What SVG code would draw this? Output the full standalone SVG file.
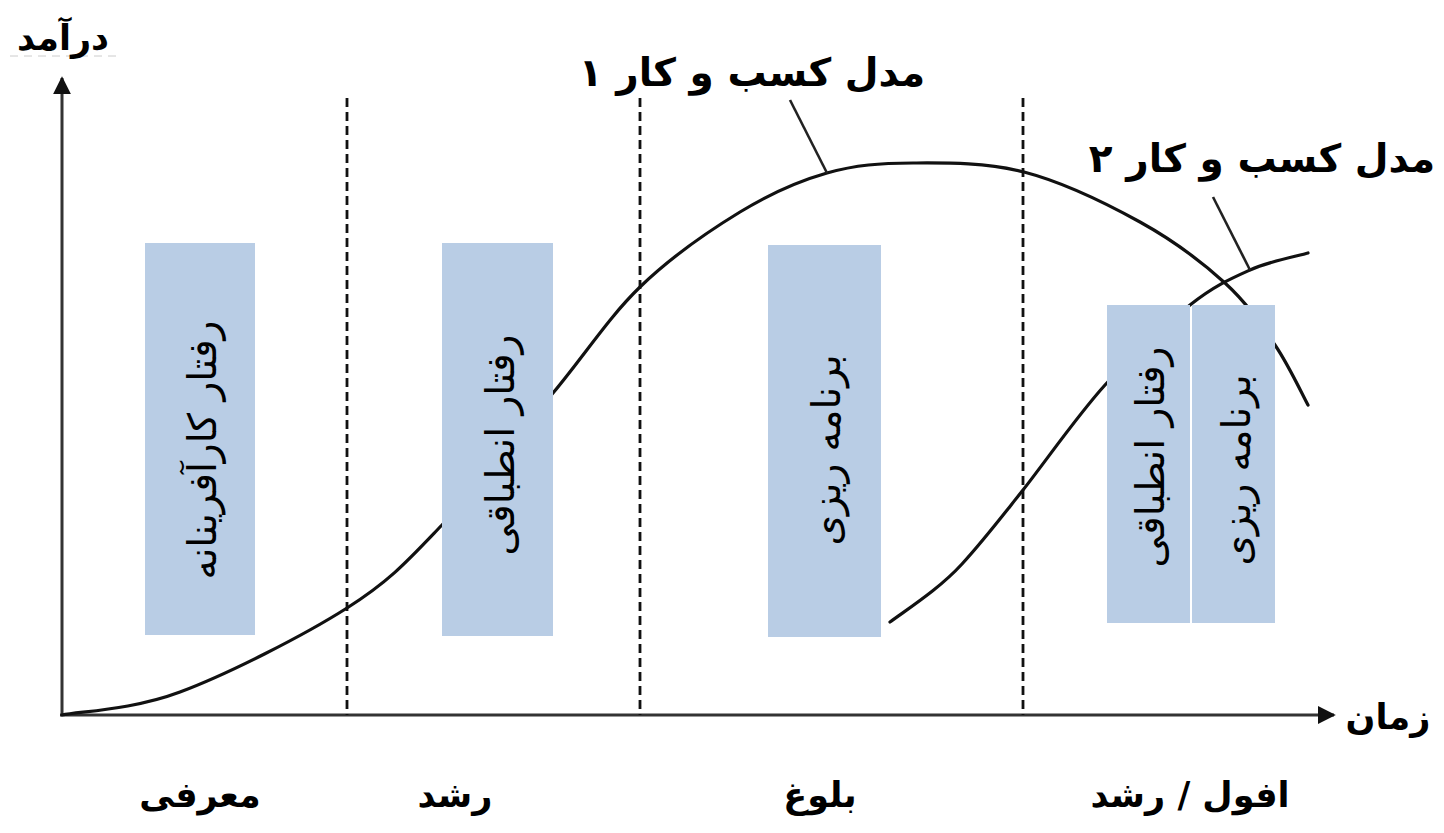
<svg xmlns="http://www.w3.org/2000/svg" width="1444" height="833" viewBox="0 0 1444 833">
<style>
.fa{font-family:"DejaVu Sans","Noto Sans",sans-serif;fill:#000;text-anchor:middle;direction:rtl}
.lbl{font-size:39px;font-weight:bold}
.stage{font-size:35px;font-weight:bold}
.axis{font-size:35px;font-weight:bold}
.boxt{font-size:39px;dominant-baseline:central}
.box{fill:#b9cde5}
.curve{fill:none;stroke:#111;stroke-width:3.2;stroke-linecap:round}
.tick{fill:none;stroke:#222;stroke-width:2.6}
.dash{fill:none;stroke:#111;stroke-width:2.8;stroke-dasharray:9 5}
.ax{stroke:#333;stroke-width:3}
</style>
<defs>
<marker id="arr" viewBox="0 0 10 10" refX="9" refY="5" markerWidth="6" markerHeight="6" markerUnits="strokeWidth" orient="auto">
<path d="M0,0 L10,5 L0,10 Z" fill="#111"/>
</marker>
</defs>
<rect width="1444" height="833" fill="#fff"/>
<g id="axes">
<line class="ax" x1="62" y1="716" x2="62" y2="78" marker-end="url(#arr)" stroke="#555"/>
<line class="ax" x1="60" y1="715" x2="1334" y2="715" marker-end="url(#arr)"/>
<line x1="10" y1="56" x2="120" y2="56" stroke="#ccc" stroke-width="1" stroke-dasharray="8 6"/>
</g>
<g id="dividers">
<line class="dash" x1="347" y1="98" x2="347" y2="715"/>
<line class="dash" x1="640" y1="98" x2="640" y2="715"/>
<line class="dash" x1="1023" y1="98" x2="1023" y2="715"/>
</g>
<g id="connectors">
<path id="curve1" class="curve" d="M62,715 C81.7,711.2 132.5,709.8 180,692 C227.5,674.2 303.3,635.8 347,608 C390.7,580.2 407.7,560.8 442,525 C476.3,489.2 520,432.7 553,393 C586,353.3 608.8,317.2 640,287 C671.2,256.8 708.8,231 740,212 C771.2,193 798.2,181.2 827,173 C855.8,164.8 880.2,163.2 913,163 C945.8,162.8 986.2,162.2 1024,172 C1061.8,181.8 1106.5,203.5 1140,222 C1173.5,240.5 1202.5,262.5 1225,283 C1247.5,303.5 1261.2,324.7 1275,345 C1288.8,365.3 1302.5,395 1308,405"/>
<path id="curve2" class="curve" d="M890,622 C912,606 940,588 962,564 C984,540 1003,515 1023,490 C1047,459.5 1077,416 1105,385 C1133,354 1166,324 1190,305 C1214,286 1230,279 1250,270 C1270,261 1298,256 1308,253"/>
<line class="tick" x1="790" y1="100" x2="827" y2="173"/>
<line class="tick" x1="1213" y1="197" x2="1250" y2="270"/>
</g>
<g id="box1"><rect class="box" x="145" y="243" width="110" height="392"/>
<text class="fa boxt" transform="translate(202,450) rotate(-90)">رفتار کارآفرینانه</text></g>
<g id="box2"><rect class="box" x="442" y="243" width="111" height="393"/>
<text class="fa boxt" transform="translate(500,445) rotate(-90)">رفتار انطباقی</text></g>
<g id="box3"><rect class="box" x="768" y="245" width="113" height="392"/>
<text class="fa boxt" transform="translate(826,450) rotate(-90)">برنامه ریزی</text></g>
<g id="box4"><rect class="box" x="1107" y="305" width="83" height="318"/>
<text class="fa boxt" transform="translate(1150,457) rotate(-90)">رفتار انطباقی</text></g>
<g id="box5"><rect class="box" x="1192" y="305" width="83" height="318"/>
<text class="fa boxt" transform="translate(1236,470) rotate(-90)">برنامه ریزی</text></g>
<g id="labels">
<text class="fa lbl" x="752" y="86">مدل کسب و کار ۱</text>
<text class="fa lbl" x="1262" y="172">مدل کسب و کار ۲</text>
<text class="fa axis" x="63" y="50">درآمد</text>
<text class="fa axis" x="1388" y="729">زمان</text>
<text class="fa stage" x="200" y="807">معرفی</text>
<text class="fa stage" x="455" y="807">رشد</text>
<text class="fa stage" x="820" y="807">بلوغ</text>
<text class="fa stage" x="1190" y="807">افول / رشد</text>
</g>
</svg>
